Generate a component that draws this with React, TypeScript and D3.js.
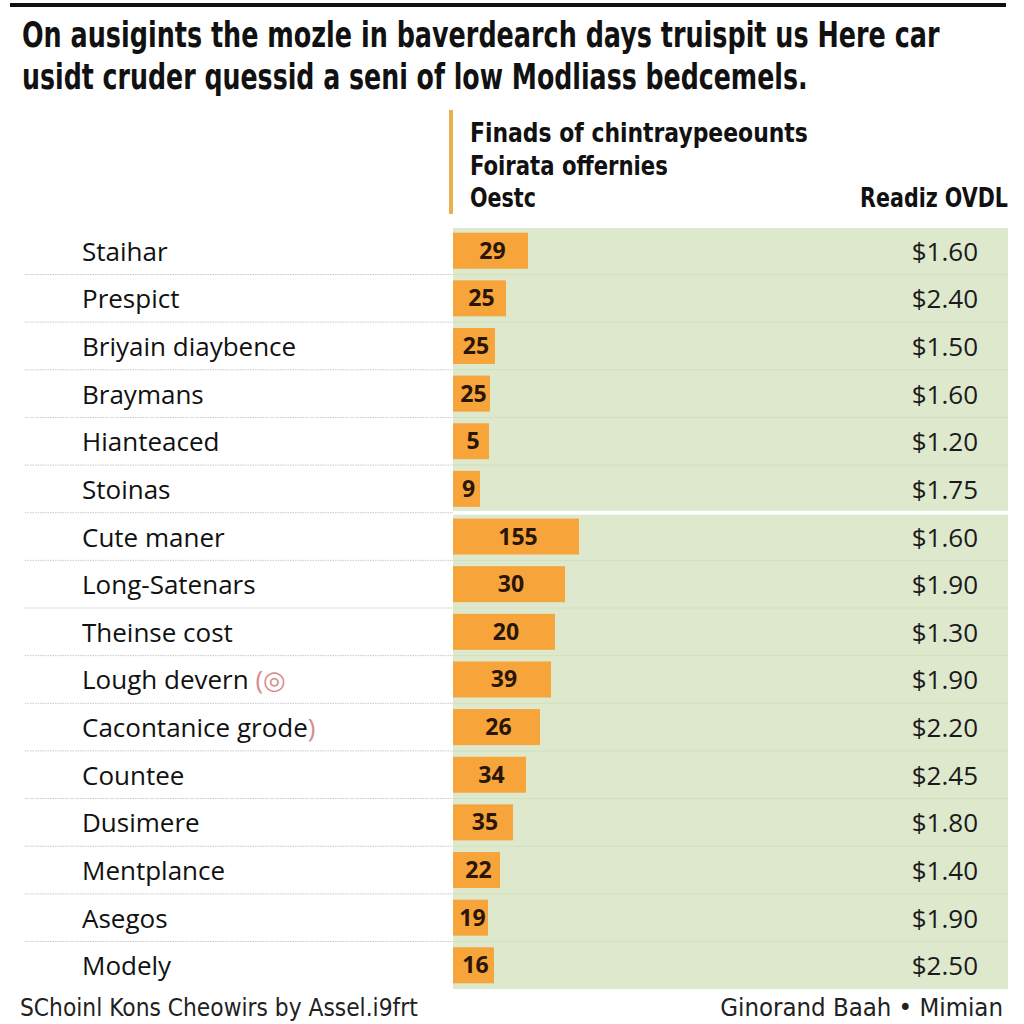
import React, { useLayoutEffect, useRef, useState } from "react";
import * as d3 from "d3";

const categories = [
  "Staihar", "Prespict", "Briyain diaybence", "Braymans", "Hianteaced", "Stoinas",
  "Cute maner", "Long-Satenars", "Theinse cost", "Lough devern", "Cacontanice grode",
  "Countee", "Dusimere", "Mentplance", "Asegos", "Modely",
];
const barLabels = ["29", "25", "25", "25", "5", "9", "155", "30", "20", "39", "26", "34", "35", "22", "19", "16"];
const barExtent = [75, 53, 42, 37, 36, 27, 126, 112, 102, 98, 87, 73, 60, 47, 35, 41];
const prices = ["$1.60", "$2.40", "$1.50", "$1.60", "$1.20", "$1.75", "$1.60", "$1.90", "$1.30", "$1.90", "$2.20", "$2.45", "$1.80", "$1.40", "$1.90", "$2.50"];
const titleLines = [
  "On ausigints the mozle in baverdearch days truispit us Here car",
  "usidt cruder quessid a seni of low Modliass bedcemels.",
];
const headerLines = ["Finads of chintraypeeounts", "Foirata offernies", "Oestc"];
const priceHeader = "Readiz OVDL";
const footerLeft = "SChoinl Kons Cheowirs by Assel.i9frt";
const footerRight = "Ginorand Baah • Mimian";
const groupBreakAfter = 5;

type FitProps = {
  x: number; y: number; width: number; anchor?: "start" | "end";
  fontFamily: string; fontSize: number; fontWeight?: number; fill: string; children: React.ReactNode;
};

function FitText({ x, y, width, anchor = "start", fontFamily, fontSize, fontWeight = 400, fill, children }: FitProps) {
  const ref = useRef<SVGTextElement>(null);
  const [sx, setSx] = useState(1);
  useLayoutEffect(() => {
    if (ref.current) {
      const w = ref.current.getComputedTextLength();
      if (w > 0) setSx(width / w);
    }
  }, [width, fontFamily, fontSize]);
  return (
    <g transform={`translate(${x},${y}) scale(${sx},1)`}>
      <text ref={ref} x={0} y={0} textAnchor={anchor} fontFamily={fontFamily} fontSize={fontSize}
        fontWeight={fontWeight} fill={fill}>{children}</text>
    </g>
  );
}

export default function App() {
  const W = 1024;
  const H = 1024;
  const y = d3.scaleBand<string>().domain(categories).range([227, 989]).paddingInner(0.245).paddingOuter(0.12);
  const x = d3.scaleLinear().domain([0, 555]).range([453, 1008]);
  const step = y.step();
  const panelTop = 228;
  const panelBottom = 989;
  const sans = "'Open Sans', 'Noto Sans', sans-serif";
  const narrow = "'Liberation Sans Narrow', 'DejaVu Sans Condensed', 'Open Sans', sans-serif";
  const breakY = (y(categories[groupBreakAfter])! + y.bandwidth() + y(categories[groupBreakAfter + 1])!) / 2;

  return (
    <div style={{ position: "absolute", left: 0, top: 0 }}>
      <svg width={W} height={H} style={{ display: "block", background: "#fff" }}>
        <rect x={10} y={3} width={996} height={4} fill="#111" />
        {titleLines.map((t, i) => (
          <FitText key={i} x={22} y={47 + i * 42} width={i === 0 ? 918 : 786} fontFamily={narrow}
            fontWeight={700} fontSize={36} fill="#111">{t}</FitText>
        ))}
        <rect x={449} y={110} width={4} height={104} fill="#E8B14E" />
        {headerLines.map((t, i) => (
          <FitText key={i} x={470} y={142 + i * 32.5} width={[338, 198, 66][i]} fontFamily={narrow}
            fontWeight={700} fontSize={27} fill="#111">{t}</FitText>
        ))}
        <FitText x={1008} y={207} width={148} anchor="end" fontFamily={narrow} fontWeight={700} fontSize={27}
          fill="#111">{priceHeader}</FitText>

        <rect x={x(0)} y={panelTop} width={x(555) - x(0)} height={panelBottom - panelTop} fill="#DDE8CC" />
        {categories.slice(0, -1).map((c, i) => {
          const yy = y(c)! + y.bandwidth() + (step - y.bandwidth()) / 2;
          return (
            <g key={"sep" + i}>
              <line x1={25} x2={453} y1={yy} y2={yy} stroke="#c9c9c9" strokeWidth={1} strokeDasharray="1.5,1" />
              <line x1={453} x2={1008} y1={yy} y2={yy} stroke="#d2e0bd" strokeWidth={1} />
            </g>
          );
        })}
        <rect x={x(0)} y={breakY - 2} width={x(555) - x(0)} height={4} fill="#fff" />

        {categories.map((c, i) => {
          const by = y(c)!;
          const bw = x(barExtent[i]) - x(0);
          const cy = by + y.bandwidth() / 2;
          return (
            <g key={c}>
              <text x={82} y={cy + 10} fontFamily={sans} fontSize={26} fill="#111">
                {c}
                {c === "Lough devern" && <tspan fill="#d98a8a"> (◎</tspan>}
                {c === "Cacontanice grode" && <tspan fill="#d98a8a">)</tspan>}
              </text>
              <rect x={x(0)} y={by} width={bw} height={y.bandwidth()} fill="#F7A43A" />
              <text x={x(0) + bw / 2 + 2} y={cy + 8} textAnchor="middle" fontFamily={sans} fontWeight={700}
                fontSize={23} fill="#2a1608">{barLabels[i]}</text>
              <text x={978} y={cy + 10} textAnchor="end" fontFamily={sans} fontSize={26} fill="#1a1a1a">{prices[i]}</text>
            </g>
          );
        })}

        <FitText x={20} y={1016} width={398} fontFamily={narrow} fontSize={25} fill="#222">{footerLeft}</FitText>
        <FitText x={1003} y={1016} width={283} anchor="end" fontFamily={narrow} fontSize={25} fill="#222">{footerRight}</FitText>
      </svg>
    </div>
  );
}
